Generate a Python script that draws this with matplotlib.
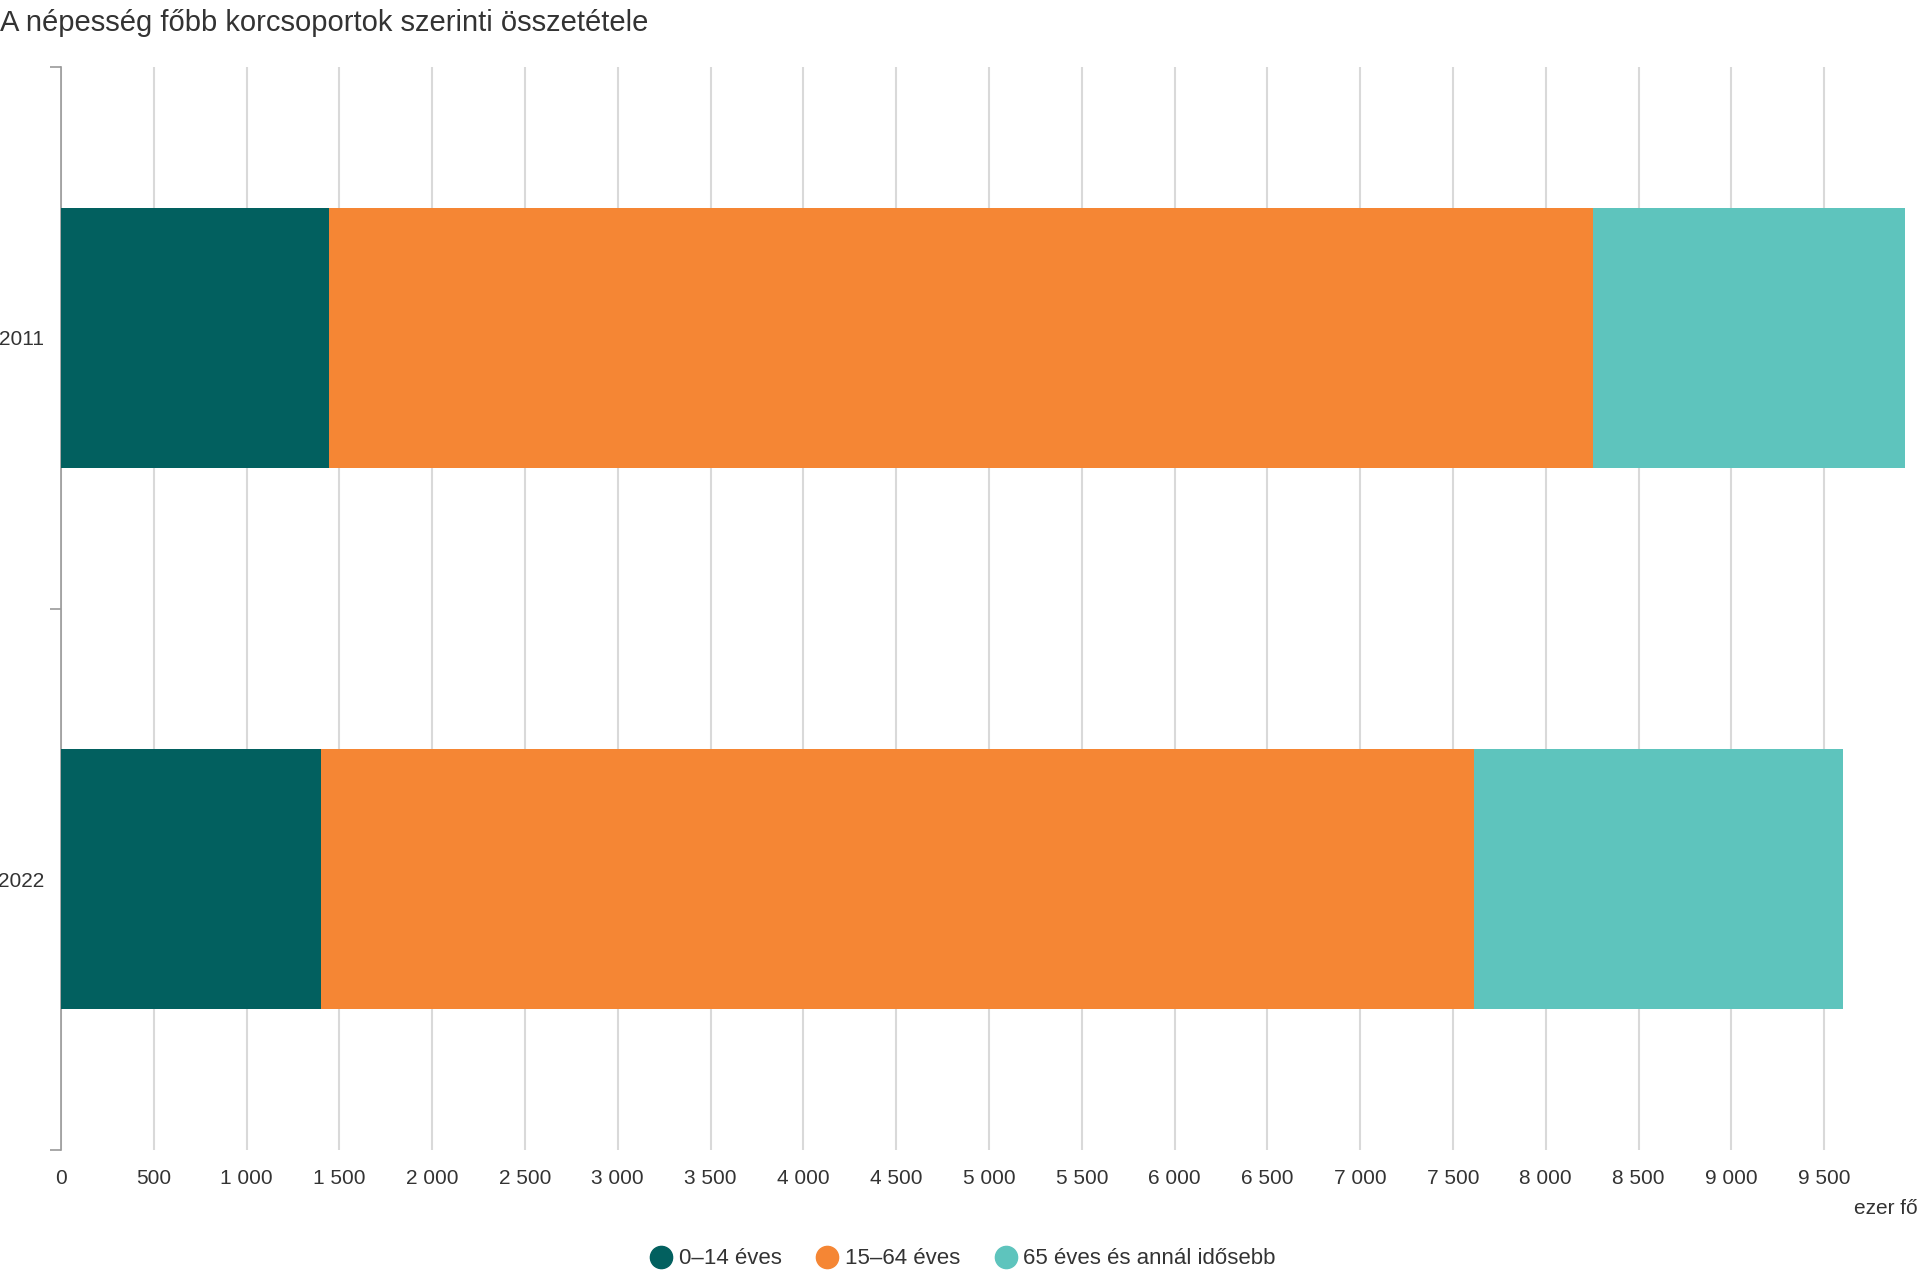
import matplotlib.pyplot as plt
from matplotlib.lines import Line2D
import numpy as np

plt.rcParams['font.family'] = ['Liberation Sans', 'DejaVu Sans']

# adatok (ezer fő)
years = ['2011', '2022']
age_groups = ['0–14 éves', '15–64 éves', '65 éves és annál idősebb']
young = [1446, 1402]
working = [6810, 6209]
old = [1681, 1992]
colors = ['#02605F', '#F58634', '#5EC4BD']

x_ticks = np.arange(0, 10000, 500)
x_labels = [f"{v:,}".replace(',', ' ') for v in x_ticks]

fig = plt.figure(figsize=(19.2, 12.8), dpi=100)
ax = fig.add_axes([61 / 1920, 1 - 1150 / 1280, (1917 - 61) / 1920, (1150 - 67) / 1280])

ypos = np.arange(len(years))
left = np.zeros(len(years))
for vals, col in zip([young, working, old], colors):
    ax.barh(ypos, vals, left=left, height=0.48, color=col, zorder=3)
    left += np.array(vals)

ax.set_xlim(0, 10000)
ax.set_ylim(1.5, -0.5)

ax.set_xticks(x_ticks)
ax.set_xticklabels(x_labels, fontsize=15, color='#333333')
ax.tick_params(axis='x', length=0, pad=14)
ax.grid(axis='x', color='#d9d9d9', linewidth=1.5, zorder=0)

ax.set_yticks(ypos)
ax.set_yticklabels(years, fontsize=15, color='#333333')
ax.set_yticks([-0.5, 0.5, 1.5], minor=True)
ax.tick_params(axis='y', which='major', length=0, pad=12)
ax.tick_params(axis='y', which='minor', length=8, width=1.2, color='#999999')

for s in ['top', 'right', 'bottom']:
    ax.spines[s].set_visible(False)
ax.spines['left'].set_color('#999999')
ax.spines['left'].set_linewidth(1.2)

fig.text(0, 1 - 23 / 1280, 'A népesség főbb korcsoportok szerinti összetétele',
         fontsize=21, color='#333333', va='center', ha='left')
fig.text(1918 / 1920, 1 - 1208 / 1280, 'ezer fő', fontsize=15, color='#333333',
         ha='right', va='center')

handles = [Line2D([0], [0], marker='o', linestyle='', markersize=16,
                  markerfacecolor=c, markeredgecolor=c) for c in colors]
fig.legend(handles, age_groups, loc='center', bbox_to_anchor=(0.5, 1 - 1259 / 1280),
           ncol=3, frameon=False, fontsize=16, handletextpad=0.05, columnspacing=1.3,
           handlelength=1.5, labelcolor='#333333')

fig.savefig('out.png', dpi=100)
